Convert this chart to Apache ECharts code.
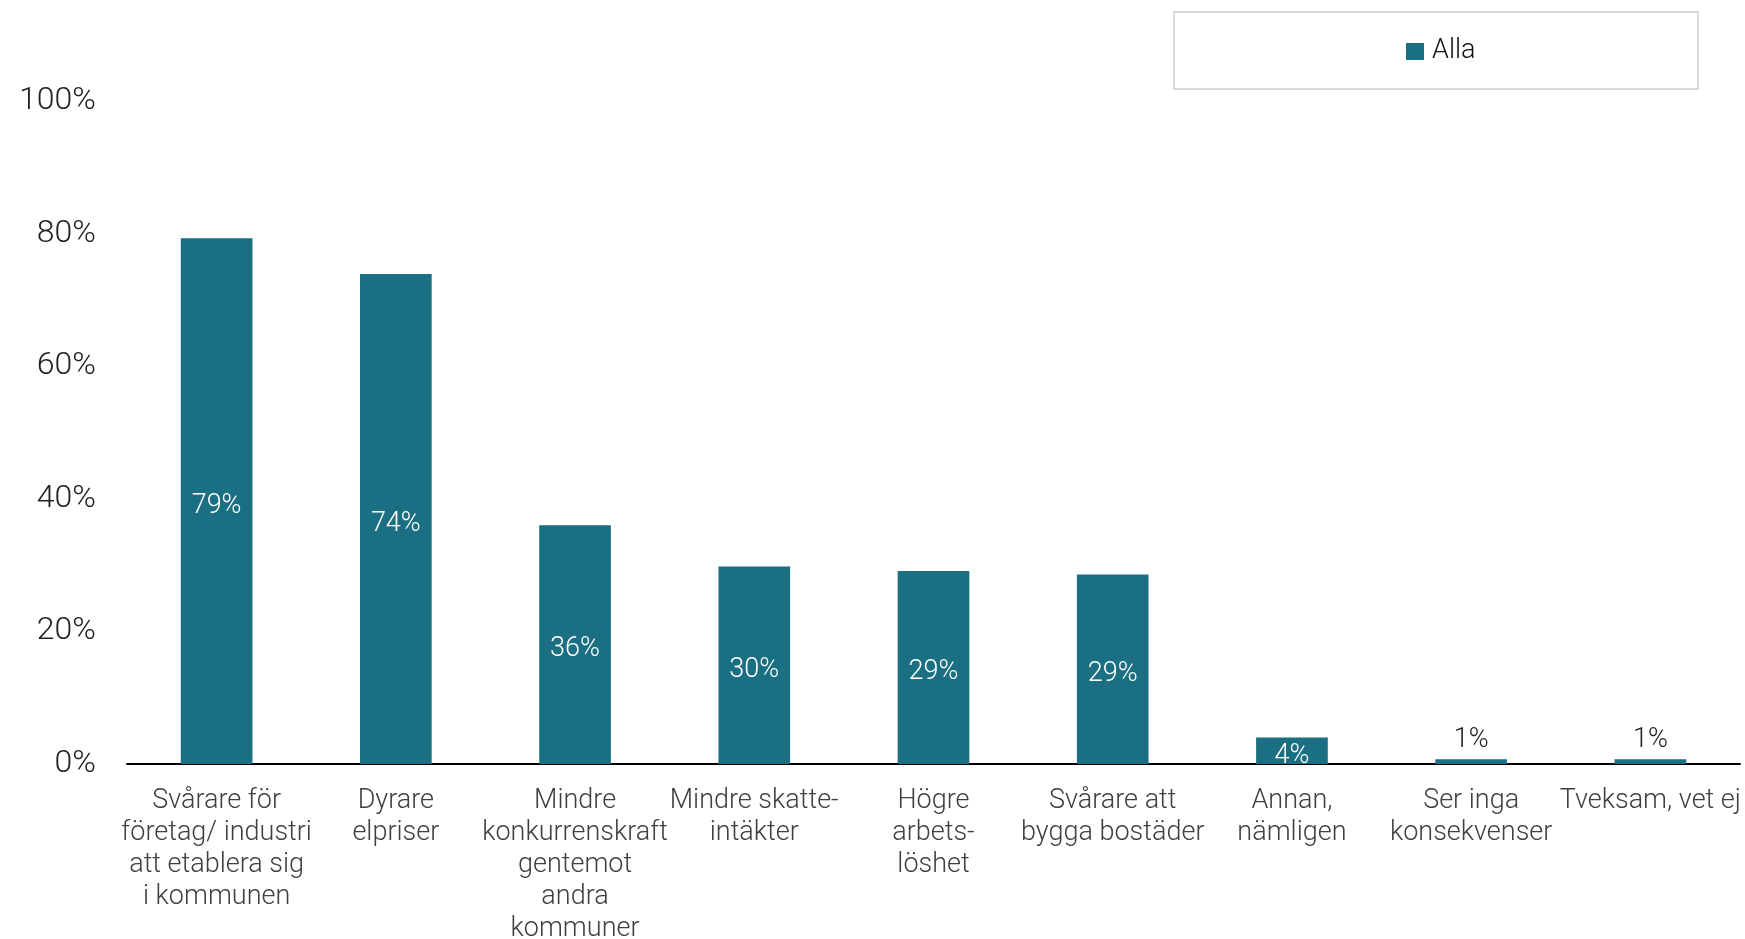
<!DOCTYPE html>
<html><head><meta charset="utf-8">
<script src="https://cdn.jsdelivr.net/npm/echarts@6/dist/echarts.min.js"></script>
<style>html,body{margin:0;padding:0;background:#fff}#c{width:1745px;height:939px}</style>
</head><body><div id="c"></div>
<script>
const categories = [
  "Svårare för\nföretag/ industri\natt etablera sig\ni kommunen",
  "Dyrare\nelpriser",
  "Mindre\nkonkurrenskraft\ngentemot\nandra\nkommuner",
  "Mindre skatte-\nintäkter",
  "Högre\narbets-\nlöshet",
  "Svårare att\nbygga bostäder",
  "Annan,\nnämligen",
  "Ser inga\nkonsekvenser",
  "Tveksam, vet ej"
];
const values = [79.3, 73.9, 36.0, 29.8, 29.1, 28.6, 4.0, 0.7, 0.7];
const seriesName = "Alla";
const yTicks = [0, 20, 40, 60, 80, 100];

const color = "#1a6f82";
const font = "Roboto";
const chart = echarts.init(document.getElementById('c'));
const data = values.map(v => v < 2
  ? {value: v, label: {position: 'top', color: '#222', distance: 11}}
  : (v < 10 ? {value: v, label: {position: 'insideBottom', distance: -1}} : v));
chart.setOption({
  animation: false,
  textStyle: {fontFamily: font},
  graphic: [{
    type: 'rect', left: 1173, top: 11,
    shape: {width: 524, height: 77},
    style: {fill: '#fff', stroke: '#d9d9d9', lineWidth: 2}
  }],
  legend: {
    data: [seriesName],
    left: 1401, top: 33,
    itemWidth: 18, itemHeight: 17, itemGap: 6, icon: 'rect',
    textStyle: {fontFamily: font, fontSize: 27, color: '#111', fontWeight: 300, padding: [0,0,0,3]}
  },
  grid: {left: 127, right: 5, top: 101, bottom: 175, containLabel: false, outerBoundsMode: 'none'},
  xAxis: {
    type: 'category', data: categories,
    axisLine: {lineStyle: {color: '#000', width: 2}},
    axisTick: {show: false},
    axisLabel: {interval: 0, fontSize: 27, lineHeight: 32, color: '#404040', margin: 21, fontFamily: font, fontWeight: 300}
  },
  yAxis: {
    type: 'value', min: yTicks[0], max: yTicks[yTicks.length-1], interval: 20,
    axisLine: {show: false}, axisTick: {show: false}, splitLine: {show: false},
    axisLabel: {formatter: v => v + '%', fontSize: 32, color: '#222', margin: 31, fontFamily: font, fontWeight: 300}
  },
  series: [{
    name: seriesName, type: 'bar', data: data, barWidth: '40%',
    itemStyle: {color: color},
    label: {
      show: true, position: 'inside', color: '#fff', fontSize: 27, fontFamily: font, fontWeight: 300,
      offset: [0, 5],
      formatter: p => Math.round(p.value) + '%'
    }
  }]
});
</script></body></html>
